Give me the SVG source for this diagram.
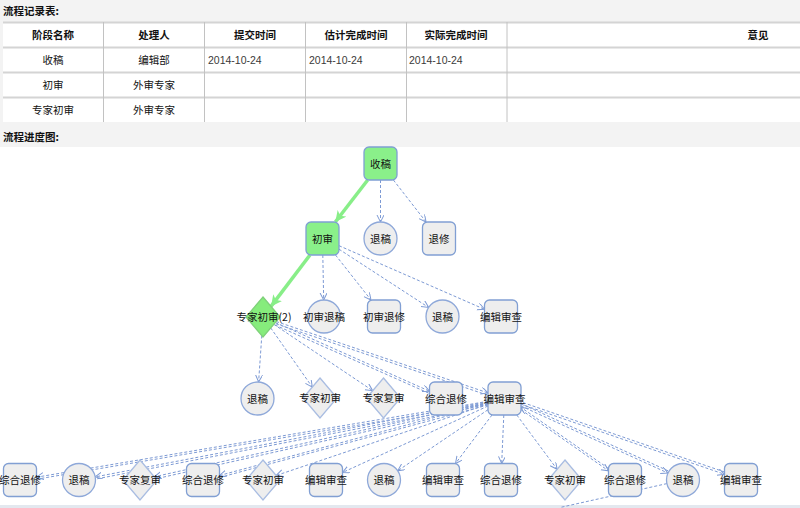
<svg xmlns="http://www.w3.org/2000/svg" width="800" height="508" viewBox="0 0 800 508">
<defs>
<style>
.t{font-family:"Noto Sans CJK SC","Liberation Sans",sans-serif;font-size:10.5px;fill:#111}
.th{font-family:"Noto Sans CJK SC","Liberation Sans",sans-serif;font-size:10.5px;font-weight:bold;fill:#111}
.d{font-family:"Liberation Sans",Arial,sans-serif;font-size:10.5px;fill:#3a3a3a}
.n{font-family:"Noto Sans CJK SC","Liberation Sans",sans-serif;font-size:10.5px;fill:#111;text-anchor:middle}
.hl{stroke:#d4d4d4;stroke-width:2}
.vl{stroke:#c2c2c2;stroke-width:1}
.r{fill:#eeeeee;stroke:#819fd3;stroke-width:1.3}
.c{fill:#eeeeee;stroke:#8ea8d9;stroke-width:1.3}
.dm{fill:#eeeeee;stroke:#a9bde2;stroke-width:1.3}
.g{fill:#8af08a;stroke:#7f9fd3;stroke-width:1.3}
.gd{fill:#86ec7c;stroke:#7fd07a;stroke-width:1.3}
.e{fill:none;stroke:#7d9ad4;stroke-width:1;stroke-dasharray:3,2;marker-end:url(#ab)}
.e0{fill:none;stroke:#7d9ad4;stroke-width:1;stroke-dasharray:3,2}
.eg{fill:none;stroke:#88ee88;stroke-width:3.5;marker-end:url(#ag)}
</style>
<marker id="ab" markerUnits="userSpaceOnUse" markerWidth="9" markerHeight="9" refX="7" refY="3.5" orient="auto">
<path d="M0,0 L7,3.5 L0,7" fill="none" stroke="#7d9ad4" stroke-width="1"/>
</marker>
<marker id="ag" markerUnits="userSpaceOnUse" markerWidth="14" markerHeight="14" refX="11" refY="5.5" orient="auto">
<path d="M0,0 L11,5.5 L0,11 L3,5.5 z" fill="#88ee88"/>
</marker>
</defs>
<rect x="0" y="0" width="800" height="508" fill="#f3f3f3"/>
<rect x="0" y="147" width="800" height="358" fill="#ffffff"/>
<rect x="0" y="505" width="800" height="3" fill="#e3e8ef"/>
<text class="th" x="3" y="15">流程记录表:</text>
<text class="th" x="3" y="141">流程进度图:</text>
<g id="table">
<rect x="3" y="22" width="797" height="100" fill="#ffffff"/>
<line class="hl" x1="3" y1="22.5" x2="800" y2="22.5"/>
<line class="hl" x1="3" y1="47.5" x2="800" y2="47.5"/>
<line class="hl" x1="3" y1="72.5" x2="800" y2="72.5"/>
<line class="hl" x1="3" y1="97.5" x2="800" y2="97.5"/>
<line class="vl" x1="103.5" y1="22" x2="103.5" y2="122"/>
<line class="vl" x1="204.5" y1="22" x2="204.5" y2="122"/>
<line class="vl" x1="305.5" y1="22" x2="305.5" y2="122"/>
<line class="vl" x1="406.5" y1="22" x2="406.5" y2="122"/>
<line class="vl" x1="507" y1="22" x2="507" y2="122"/>
<g text-anchor="middle">
<text class="th" x="53" y="39">阶段名称</text>
<text class="th" x="154" y="39">处理人</text>
<text class="th" x="255" y="39">提交时间</text>
<text class="th" x="356" y="39">估计完成时间</text>
<text class="th" x="456" y="39">实际完成时间</text>
<text class="th" x="758" y="39">意见</text>
<text class="t" x="53" y="64">收稿</text>
<text class="t" x="154" y="64">编辑部</text>
<text class="t" x="53" y="89">初审</text>
<text class="t" x="154" y="89">外审专家</text>
<text class="t" x="53" y="114">专家初审</text>
<text class="t" x="154" y="114">外审专家</text>
</g>
<text class="d" x="208" y="64">2014-10-24</text>
<text class="d" x="309" y="64">2014-10-24</text>
<text class="d" x="409" y="64">2014-10-24</text>
</g>
<g id="connectors">
<path class="eg" d="M367.7,180 L335.3,222"/>
<path class="e" d="M380.5,180 L380.5,222"/>
<path class="e" d="M393.4,180 L426.1,222"/>
<path class="eg" d="M310,255 L271,306.4"/>
<path class="e" d="M322.8,255 L323.7,300"/>
<path class="e" d="M335.5,255 L371,300"/>
<path class="e" d="M339,249.2 L428.7,307.5"/>
<path class="e" d="M339,245.7 L484.5,309.3"/>
<path class="e" d="M261.8,335.5 L258.6,382"/>
<path class="e" d="M270.7,327.9 L312.3,387.1"/>
<path class="e" d="M273.8,324.3 L372.7,390.7"/>
<path class="e" d="M275.3,322.5 L429.5,391.2"/>
<path class="e0" d="M275,325 L429.5,393.5"/>
<path class="e" d="M276.2,321.5 L488,392.9"/>
<path class="e0" d="M276,323.8 L488,395.3"/>
<path class="e" d="M488,401.3 L36.5,477.2"/>
<path class="e0" d="M488,403.3 L36.5,479.2"/>
<path class="e" d="M488,401.7 L95.2,476.9"/>
<path class="e0" d="M488,403.7 L96,479"/>
<path class="e" d="M488,402.2 L154.3,476.8"/>
<path class="e0" d="M488,404.2 L155,479"/>
<path class="e" d="M488,403 L219.5,475.5"/>
<path class="e0" d="M488,405 L219.5,477.5"/>
<path class="e" d="M488,404.1 L276.2,475.5"/>
<path class="e" d="M488,406 L342.5,472.5"/>
<path class="e" d="M488,409.7 L397.7,470.8"/>
<path class="e" d="M492,415 L455.5,463.5"/>
<path class="e" d="M503.8,415 L501.7,463.5"/>
<path class="e" d="M516.8,415 L557.1,469.3"/>
<path class="e" d="M521,409.7 L608.5,470.8"/>
<path class="e" d="M608.5,468.5 L521,407.4"/>
<path class="e" d="M521,406 L668,473.1"/>
<path class="e0" d="M668,470.8 L521,403.7"/>
<path class="e" d="M521,404.2 L724.5,474.3"/>
<path class="e0" d="M724.5,472 L521,401.9"/>
<path class="e0" d="M666.9,483.6 L560,507.5"/>
</g>
<g id="n-shougao"><rect class="g" x="364" y="147" width="33" height="33" rx="5"/><text class="n" x="380.5" y="167.5">收稿</text></g>
<g id="n-chushen"><rect class="g" x="306" y="222" width="33" height="33" rx="5"/><text class="n" x="322.5" y="242.5">初审</text></g>
<g id="n-tuigao1"><circle class="c" cx="380.5" cy="238.5" r="16.5"/><text class="n" x="380.5" y="242.5">退稿</text></g>
<g id="n-tuixiu"><rect class="r" x="422.5" y="222" width="33" height="33" rx="5"/><text class="n" x="439" y="242.5">退修</text></g>
<g id="n-zjcs2"><polygon class="gd" points="263,297 280,317 263,337 246,317"/><text class="n" x="264" y="321">专家初审(2)</text></g>
<g id="n-cstg"><circle class="c" cx="324" cy="316.5" r="16.5"/><text class="n" x="324" y="320.5">初审退稿</text></g>
<g id="n-cstx"><rect class="r" x="367.5" y="300" width="33" height="33" rx="5"/><text class="n" x="384" y="320.5">初审退修</text></g>
<g id="n-tuigao2"><circle class="c" cx="442.5" cy="316.5" r="16.5"/><text class="n" x="442.5" y="320.5">退稿</text></g>
<g id="n-bjsc1"><rect class="r" x="484.5" y="300" width="33" height="33" rx="5"/><text class="n" x="501" y="320.5">编辑审查</text></g>
<g id="n-tuigao3"><circle class="c" cx="257.5" cy="398.5" r="16.5"/><text class="n" x="257.5" y="402.5">退稿</text></g>
<g id="n-zjcs"><polygon class="dm" points="320,378 337,398 320,418 303,398"/><text class="n" x="320" y="402">专家初审</text></g>
<g id="n-zjfs"><polygon class="dm" points="383.5,378 400.5,398 383.5,418 366.5,398"/><text class="n" x="383.5" y="402">专家复审</text></g>
<g id="n-zhtx"><rect class="r" x="429.5" y="382" width="33" height="33" rx="5"/><text class="n" x="446" y="402.5">综合退修</text></g>
<g id="n-bjsc2"><rect class="r" x="488" y="382" width="33" height="33" rx="5"/><text class="n" x="504.5" y="402.5">编辑审查</text></g>
<g id="n-r5-1"><rect class="r" x="3.5" y="463.5" width="33" height="33" rx="5"/><text class="n" x="20" y="484">综合退修</text></g>
<g id="n-r5-2"><circle class="c" cx="79" cy="480" r="16.5"/><text class="n" x="79" y="484">退稿</text></g>
<g id="n-r5-3"><polygon class="dm" points="140,460 157,480 140,500 123,480"/><text class="n" x="140" y="484">专家复审</text></g>
<g id="n-r5-4"><rect class="r" x="186.5" y="463.5" width="33" height="33" rx="5"/><text class="n" x="203" y="484">综合退修</text></g>
<g id="n-r5-5"><polygon class="dm" points="263,460 280,480 263,500 246,480"/><text class="n" x="263" y="484">专家初审</text></g>
<g id="n-r5-6"><rect class="r" x="309.5" y="463.5" width="33" height="33" rx="5"/><text class="n" x="326" y="484">编辑审查</text></g>
<g id="n-r5-7"><circle class="c" cx="384" cy="480" r="16.5"/><text class="n" x="384" y="484">退稿</text></g>
<g id="n-r5-8"><rect class="r" x="426.5" y="463.5" width="33" height="33" rx="5"/><text class="n" x="443" y="484">编辑审查</text></g>
<g id="n-r5-9"><rect class="r" x="484.5" y="463.5" width="33" height="33" rx="5"/><text class="n" x="501" y="484">综合退修</text></g>
<g id="n-r5-10"><polygon class="dm" points="565,460 582,480 565,500 548,480"/><text class="n" x="565" y="484">专家初审</text></g>
<g id="n-r5-11"><rect class="r" x="608.5" y="463.5" width="33" height="33" rx="5"/><text class="n" x="625" y="484">综合退修</text></g>
<g id="n-r5-12"><circle class="c" cx="683" cy="480" r="16.5"/><text class="n" x="683" y="484">退稿</text></g>
<g id="n-r5-13"><rect class="r" x="724.5" y="463.5" width="33" height="33" rx="5"/><text class="n" x="741" y="484">编辑审查</text></g>
</svg>
